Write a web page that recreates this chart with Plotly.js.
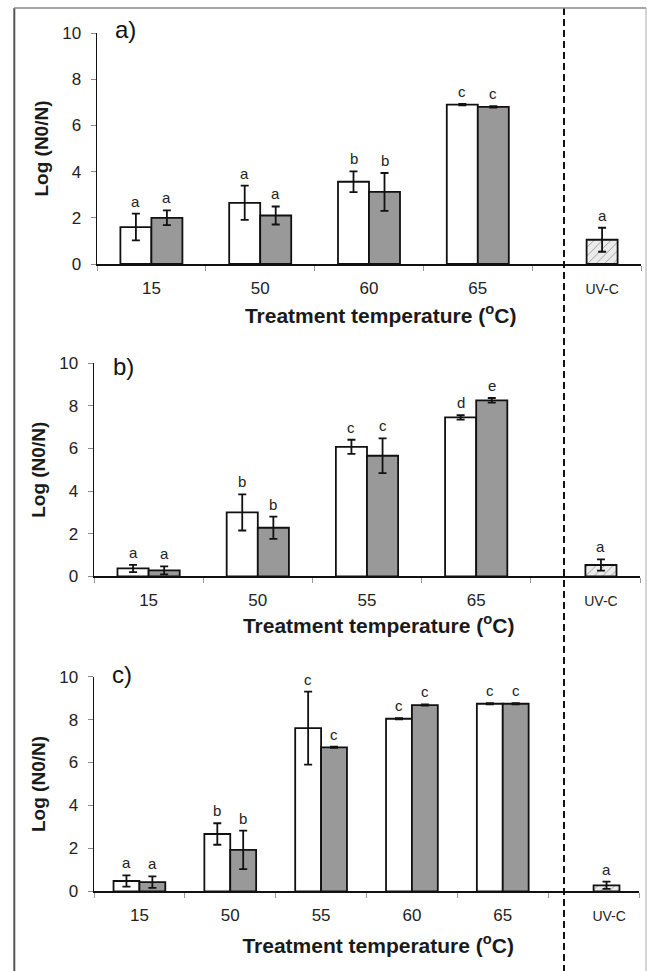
<!DOCTYPE html>
<html>
<head>
<meta charset="utf-8">
<script src="https://cdn.plot.ly/plotly-3.0.1.min.js"></script>
<style>html,body{margin:0;padding:0;background:#fff;}#chart{width:647px;height:971px;}</style>
</head>
<body>
<div id="chart"></div>
<script>
// ---------- DATA ----------
// Panel a)
const catsA = ['15', '50', '60', '65', 'UV-C'];
const whiteA = [1.6, 2.65, 3.56, 6.9];
const whiteErrA = [0.58, 0.74, 0.45, 0.03];
const grayA = [2.0, 2.1, 3.12, 6.8];
const grayErrA = [0.32, 0.39, 0.82, 0.03];
const uvA = [1.05];
const uvErrA = [0.52];
const whiteLetA = ['a', 'a', 'b', 'c'];
const grayLetA = ['a', 'a', 'b', 'c'];
const uvLetA = ['a'];

// Panel b)
const catsB = ['15', '50', '55', '65', 'UV-C'];
const whiteB = [0.37, 3.0, 6.08, 7.46];
const whiteErrB = [0.17, 0.85, 0.33, 0.1];
const grayB = [0.28, 2.28, 5.66, 8.26];
const grayErrB = [0.19, 0.52, 0.82, 0.11];
const uvB = [0.53];
const uvErrB = [0.26];
const whiteLetB = ['a', 'b', 'c', 'd'];
const grayLetB = ['a', 'b', 'c', 'e'];
const uvLetB = ['a'];

// Panel c)
const catsC = ['15', '50', '55', '60', '65', 'UV-C'];
const whiteC = [0.48, 2.67, 7.6, 8.04, 8.74];
const whiteErrC = [0.26, 0.5, 1.7, 0.03, 0.03];
const grayC = [0.43, 1.93, 6.71, 8.68, 8.74];
const grayErrC = [0.27, 0.9, 0.03, 0.03, 0.03];
const uvC = [0.28];
const uvErrC = [0.17];
const whiteLetC = ['a', 'b', 'c', 'c', 'c'];
const grayLetC = ['a', 'b', 'c', 'c', 'c'];
const uvLetC = ['a'];

const panelLabels = ['a)', 'b)', 'c)'];
const yTitle = 'Log (N0/N)';
const xTitle = 'Treatment temperature (<sup>o</sup>C)';

// ---------- LAYOUT GEOMETRY (pixels) ----------
const W = 647, H = 971;
const px = v => v / W;
const py = v => 1 - v / H;
const geom = [
  {x0: 97, x1: 641, yTop: 33, yBot: 264, lab: [125, 29], tstand: 11},
  {x0: 94, x1: 640, yTop: 363.3, yBot: 576.3, lab: [123, 366], tstand: 9},
  {x0: 94, x1: 639, yTop: 676.7, yBot: 891.3, lab: [122, 674], tstand: 14}
];
const BARGAP = 0.43;
const half = (1 - BARGAP) / 4;
const NB = '&nbsp;';

const panels = [
  {cats: catsA, w: whiteA, we: whiteErrA, g: grayA, ge: grayErrA, u: uvA, ue: uvErrA, wl: whiteLetA, gl: grayLetA, ul: uvLetA},
  {cats: catsB, w: whiteB, we: whiteErrB, g: grayB, ge: grayErrB, u: uvB, ue: uvErrB, wl: whiteLetB, gl: grayLetB, ul: uvLetB},
  {cats: catsC, w: whiteC, we: whiteErrC, g: grayC, ge: grayErrC, u: uvC, ue: uvErrC, wl: whiteLetC, gl: grayLetC, ul: uvLetC}
];

const FONT = 'Liberation Sans, Arial, sans-serif';
const traces = [];
const annotations = [];
const shapes = [];
const layout = {
  width: W, height: H,
  margin: {l: 0, r: 0, t: 0, b: 0},
  paper_bgcolor: '#fff', plot_bgcolor: 'rgba(0,0,0,0)',
  font: {family: FONT, size: 17, color: '#222'},
  showlegend: false,
  barmode: 'group', bargap: BARGAP, bargroupgap: 0
};

panels.forEach((p, i) => {
  const sfx = i === 0 ? '' : String(i + 1);
  const xa = 'x' + sfx, ya = 'y' + sfx;
  const G = geom[i];
  const tempCats = p.cats.slice(0, p.w.length);
  const uvCat = p.cats.slice(p.w.length);
  const errStyle = {color: '#111', thickness: 1.8, width: 4};
  traces.push({
    type: 'bar', x: tempCats, y: p.w, xaxis: xa, yaxis: ya, offsetgroup: 'w',
    marker: {color: '#ffffff', line: {color: '#111', width: 1.8}},
    error_y: Object.assign({type: 'data', array: p.we, symmetric: true, visible: true}, errStyle),
    hoverinfo: 'skip'
  });
  traces.push({
    type: 'bar', x: tempCats, y: p.g, xaxis: xa, yaxis: ya, offsetgroup: 'g',
    marker: {color: '#999999', line: {color: '#111', width: 1.8}},
    error_y: Object.assign({type: 'data', array: p.ge, symmetric: true, visible: true}, errStyle),
    hoverinfo: 'skip'
  });
  traces.push({
    type: 'bar', x: uvCat, y: p.u, xaxis: xa, yaxis: ya, offsetgroup: 'g',
    marker: {color: '#ebebeb', line: {color: '#111', width: 1.8},
             pattern: {shape: '/', fgcolor: '#9a9a9a', bgcolor: '#ebebeb', size: 6, solidity: 0.15}},
    error_y: Object.assign({type: 'data', array: p.ue, symmetric: true, visible: true}, errStyle),
    hoverinfo: 'skip'
  });

  layout['xaxis' + sfx] = {
    domain: [px(G.x0), px(G.x1)], anchor: ya,
    type: 'category', categoryorder: 'array', categoryarray: p.cats,
    tickmode: 'array', tickvals: p.cats,
    ticktext: p.cats.map(c => c === 'UV-C' ? '<span style="font-size:14px">' + NB.repeat(8) + 'UV-C</span>' : c),
    tickson: 'boundaries', ticks: 'outside', ticklen: 5, tickcolor: '#999', tickwidth: 1,
    showline: true, linecolor: '#111', linewidth: 1.5,
    showgrid: false, zeroline: false, fixedrange: true,
    tickfont: {size: 17, color: '#222'}, ticklabelstandoff: 8,
    automargin: false,
    title: {text: NB.repeat(4) + xTitle, font: {size: 21, weight: 'bold', color: '#1a1a1a'}, standoff: G.tstand}
  };
  layout['yaxis' + sfx] = {
    domain: [py(G.yBot), py(G.yTop)], anchor: xa,
    range: [0, 10], tickvals: [0, 2, 4, 6, 8, 10],
    ticks: 'outside', ticklen: 5, tickcolor: '#888', tickwidth: 1,
    showline: true, linecolor: '#111', linewidth: 1.5,
    showgrid: false, zeroline: false, fixedrange: true,
    tickfont: {size: 17, color: '#222'}, ticklabelstandoff: 6,
    automargin: false,
    title: {text: yTitle, font: {size: 19, weight: 'bold', color: '#1a1a1a'}, standoff: 8}
  };

  // significance letters
  const addLetters = (vals, errs, lets, offset, startIdx) => {
    vals.forEach((v, k) => {
      annotations.push({
        xref: xa, yref: ya, x: startIdx + k + offset, y: v + errs[k],
        text: lets[k], showarrow: false, yanchor: 'bottom', xanchor: 'center',
        yshift: 2, font: {size: 15, color: '#222'}
      });
    });
  };
  addLetters(p.w, p.we, p.wl, -half, 0);
  addLetters(p.g, p.ge, p.gl, half, 0);
  addLetters(p.u, p.ue, p.ul, half, p.w.length);

  // panel label
  annotations.push({
    xref: 'paper', yref: 'paper', x: px(G.lab[0]), y: py(G.lab[1]),
    text: panelLabels[i], showarrow: false, xanchor: 'center', yanchor: 'middle',
    font: {size: 24, color: '#111'}
  });
});

// dashed separator spanning the whole figure
shapes.push({type: 'line', xref: 'paper', yref: 'paper',
  x0: px(564), x1: px(564), y0: py(8), y1: 0,
  line: {color: '#111', width: 2, dash: '7px,4px'}});
// outer frame
shapes.push({type: 'line', xref: 'paper', yref: 'paper', x0: px(14.3), x1: px(14.3), y0: py(8), y1: 0,
  line: {color: '#555', width: 2}});
shapes.push({type: 'line', xref: 'paper', yref: 'paper', x0: px(14), x1: px(646), y0: py(8), y1: py(8),
  line: {color: '#8a8a8a', width: 1.5}});
shapes.push({type: 'line', xref: 'paper', yref: 'paper', x0: px(646), x1: px(646), y0: py(8), y1: 0,
  line: {color: '#aaa', width: 1}});

layout.annotations = annotations;
layout.shapes = shapes;

Plotly.newPlot('chart', traces, layout, {staticPlot: true, displayModeBar: false});
</script>
</body>
</html>
